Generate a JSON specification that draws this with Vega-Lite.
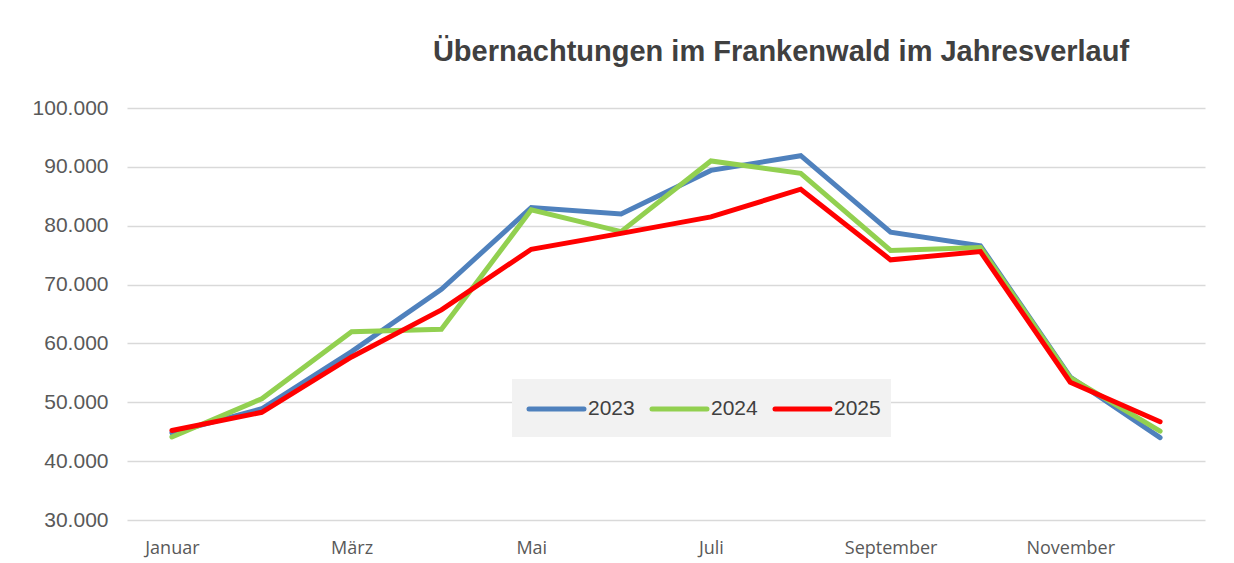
{
  "$schema": "https://vega.github.io/schema/vega-lite/v6.json",
  "autosize": {"type": "none"},
  "width": 1078,
  "height": 412,
  "padding": {"left": 127, "top": 108, "right": 29, "bottom": 43},
  "background": "#ffffff",
  "title": {
    "text": "Übernachtungen im Frankenwald im Jahresverlauf",
    "font": "Liberation Sans",
    "fontSize": 29,
    "fontWeight": "bold",
    "color": "#404040",
    "anchor": "middle",
    "dx": 115,
    "offset": 30
  },
  "data": {
    "values": [
      {"monat": "Januar", "jahr": "2023", "wert": 44800},
      {"monat": "Februar", "jahr": "2023", "wert": 48900},
      {"monat": "März", "jahr": "2023", "wert": 58600},
      {"monat": "April", "jahr": "2023", "wert": 69200},
      {"monat": "Mai", "jahr": "2023", "wert": 83100},
      {"monat": "Juni", "jahr": "2023", "wert": 82000},
      {"monat": "Juli", "jahr": "2023", "wert": 89400},
      {"monat": "August", "jahr": "2023", "wert": 91900},
      {"monat": "September", "jahr": "2023", "wert": 78900},
      {"monat": "Oktober", "jahr": "2023", "wert": 76600},
      {"monat": "November", "jahr": "2023", "wert": 54300},
      {"monat": "Dezember", "jahr": "2023", "wert": 44000},
      {"monat": "Januar", "jahr": "2024", "wert": 44100},
      {"monat": "Februar", "jahr": "2024", "wert": 50600},
      {"monat": "März", "jahr": "2024", "wert": 62000},
      {"monat": "April", "jahr": "2024", "wert": 62400},
      {"monat": "Mai", "jahr": "2024", "wert": 82700},
      {"monat": "Juni", "jahr": "2024", "wert": 79000},
      {"monat": "Juli", "jahr": "2024", "wert": 91000},
      {"monat": "August", "jahr": "2024", "wert": 88900},
      {"monat": "September", "jahr": "2024", "wert": 75800},
      {"monat": "Oktober", "jahr": "2024", "wert": 76300},
      {"monat": "November", "jahr": "2024", "wert": 54200},
      {"monat": "Dezember", "jahr": "2024", "wert": 45100},
      {"monat": "Januar", "jahr": "2025", "wert": 45200},
      {"monat": "Februar", "jahr": "2025", "wert": 48300},
      {"monat": "März", "jahr": "2025", "wert": 57700},
      {"monat": "April", "jahr": "2025", "wert": 65700},
      {"monat": "Mai", "jahr": "2025", "wert": 76000},
      {"monat": "Juni", "jahr": "2025", "wert": 78700},
      {"monat": "Juli", "jahr": "2025", "wert": 81500},
      {"monat": "August", "jahr": "2025", "wert": 86200},
      {"monat": "September", "jahr": "2025", "wert": 74200},
      {"monat": "Oktober", "jahr": "2025", "wert": 75600},
      {"monat": "November", "jahr": "2025", "wert": 53400},
      {"monat": "Dezember", "jahr": "2025", "wert": 46700}
    ]
  },
  "mark": {"type": "line", "strokeCap": "round", "strokeJoin": "miter"},
  "encoding": {
    "x": {
      "field": "monat",
      "type": "ordinal",
      "sort": null,
      "scale": {"type": "point", "padding": 0.5},
      "axis": {
        "title": null,
        "values": ["Januar", "März", "Mai", "Juli", "September", "November"],
        "labelAngle": 0,
        "labelFont": "Open Sans",
        "labelFontSize": 18,
        "labelColor": "#595959",
        "labelPadding": 19,
        "ticks": false,
        "domain": false,
        "grid": false
      }
    },
    "y": {
      "field": "wert",
      "type": "quantitative",
      "scale": {"domain": [30000, 100000], "nice": false, "zero": false},
      "axis": {
        "title": null,
        "values": [30000, 40000, 50000, 60000, 70000, 80000, 90000, 100000],
        "labelExpr": "replace(format(datum.value, ',d'), ',', '.')",
        "labelFont": "Liberation Sans",
        "labelFontSize": 21,
        "labelColor": "#595959",
        "labelPadding": 19,
        "ticks": false,
        "domain": false,
        "grid": true,
        "gridColor": "#d9d9d9",
        "gridWidth": 1.5
      }
    },
    "color": {
      "field": "jahr",
      "type": "nominal",
      "scale": {"domain": ["2023", "2024", "2025"], "range": ["#4f81bd", "#92d050", "#ff0000"]},
      "legend": {
        "title": " ",
        "titleOrient": "bottom",
        "titleFontSize": 1,
        "titlePadding": 7,
        "orient": "none",
        "direction": "horizontal",
        "legendX": 385,
        "legendY": 271,
        "fillColor": "#f2f2f2",
        "padding": 10,
        "symbolOffset": 14.5,
        "symbolType": "M-1.57,0H1.57",
        "symbolSize": 1225,
        "labelFont": "Liberation Sans",
        "labelFontSize": 21,
        "labelColor": "#404040",
        "labelOffset": 11.5,
        "columnPadding": 7,
        "encode": {
          "symbols": {
            "update": {
              "strokeWidth": {"signal": "datum.value === '2025' ? 7.5 : 5"},
              "strokeCap": {"value": "round"}
            }
          }
        }
      }
    },
    "strokeWidth": {
      "field": "jahr",
      "type": "nominal",
      "scale": {"domain": ["2023", "2024", "2025"], "range": [5, 5, 8]},
      "legend": null
    }
  },
  "config": {"view": {"stroke": null}}
}
